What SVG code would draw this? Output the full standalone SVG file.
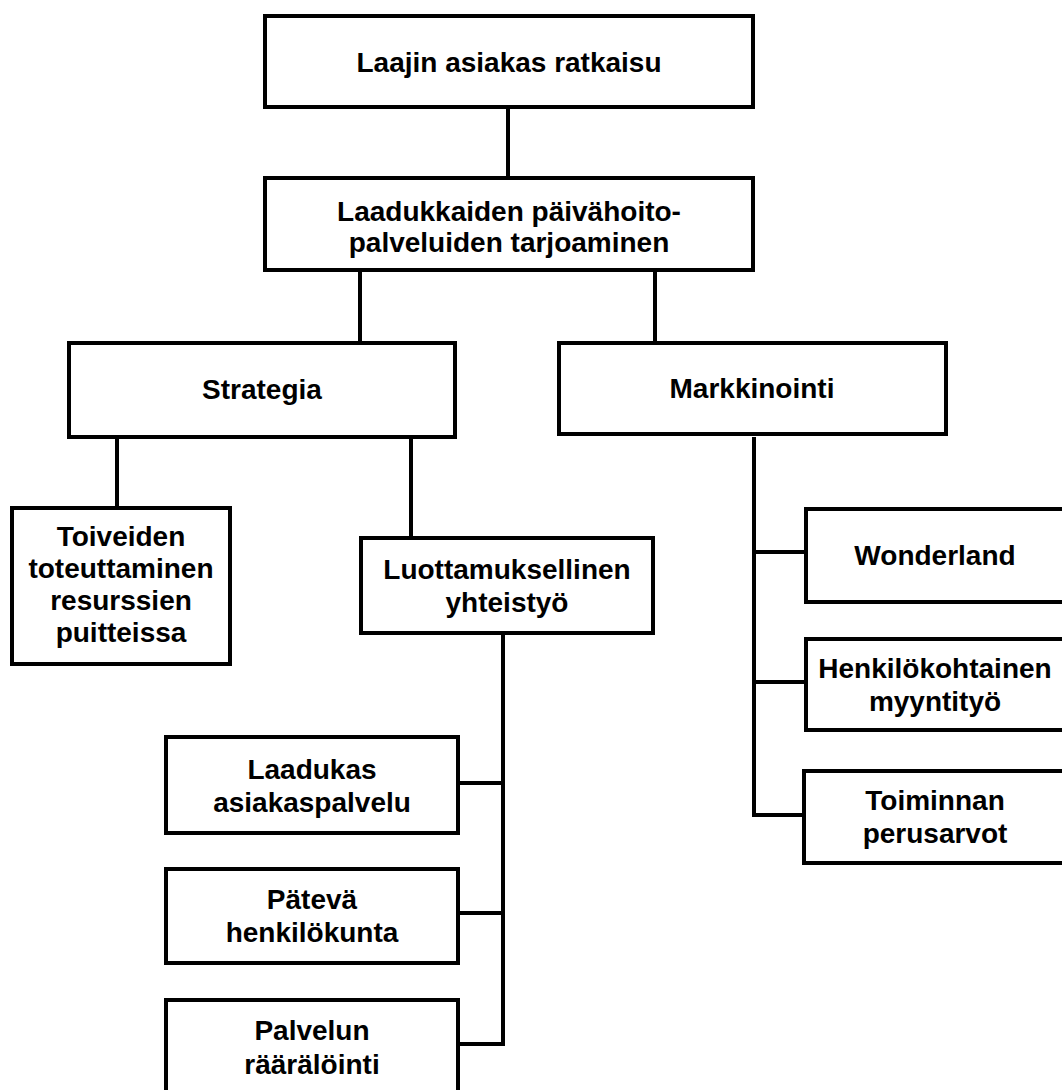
<svg xmlns="http://www.w3.org/2000/svg" width="1062" height="1090" viewBox="0 0 1062 1090">
<style>
rect.box{fill:#ffffff;stroke:#000000;stroke-width:4}
.conn line, .conn path{stroke:#000000;stroke-width:4;fill:none}
text{font-family:"Liberation Sans",Arial,sans-serif;font-weight:bold;font-size:28px;fill:#000000;text-anchor:middle}
</style>
<rect width="1062" height="1090" fill="#ffffff"/>
<g id="connectors" class="conn">
<line x1="508" y1="107" x2="508" y2="178"/>
<line x1="360" y1="270" x2="360" y2="343"/>
<line x1="655" y1="270" x2="655" y2="343"/>
<line x1="117" y1="437" x2="117" y2="508"/>
<line x1="411" y1="437" x2="411" y2="538"/>
<path d="M503 633 V1044"/>
<line x1="458" y1="783" x2="505" y2="783"/>
<line x1="458" y1="913" x2="505" y2="913"/>
<line x1="458" y1="1044" x2="505" y2="1044"/>
<path d="M754 437 V815"/>
<line x1="752" y1="552" x2="806" y2="552"/>
<line x1="752" y1="682" x2="806" y2="682"/>
<line x1="752" y1="815" x2="804" y2="815"/>
</g>
<g id="n-laajin"><rect class="box" x="265" y="16" width="488" height="91"/><text x="509" y="72">Laajin asiakas ratkaisu</text></g>
<g id="n-laadukkaiden"><rect class="box" x="265" y="178" width="488" height="92"/><text x="509" y="221">Laadukkaiden päivähoito-</text><text x="509" y="252">palveluiden tarjoaminen</text></g>
<g id="n-strategia"><rect class="box" x="69" y="343" width="386" height="94"/><text x="262" y="399">Strategia</text></g>
<g id="n-markkinointi"><rect class="box" x="559" y="343" width="387" height="91"/><text x="752" y="398">Markkinointi</text></g>
<g id="n-toiveiden"><rect class="box" x="12" y="508" width="218" height="156"/><text x="121" y="546">Toiveiden</text><text x="121" y="578">toteuttaminen</text><text x="121" y="610">resurssien</text><text x="121" y="642">puitteissa</text></g>
<g id="n-luottamuksellinen"><rect class="box" x="361" y="538" width="292" height="95"/><text x="507" y="579">Luottamuksellinen</text><text x="507" y="612">yhteistyö</text></g>
<g id="n-laadukas"><rect class="box" x="166" y="737" width="292" height="96"/><text x="312" y="779">Laadukas</text><text x="312" y="812">asiakaspalvelu</text></g>
<g id="n-pateva"><rect class="box" x="166" y="869" width="292" height="94"/><text x="312" y="909">Pätevä</text><text x="312" y="942">henkilökunta</text></g>
<g id="n-palvelun"><rect class="box" x="166" y="1000" width="292" height="110"/><text x="312" y="1040">Palvelun</text><text x="312" y="1074">räärälöinti</text></g>
<g id="n-wonderland"><rect class="box" x="806" y="509" width="264" height="93"/><text x="935" y="565">Wonderland</text></g>
<g id="n-henkilokohtainen"><rect class="box" x="806" y="639" width="264" height="91"/><text x="935" y="678">Henkilökohtainen</text><text x="935" y="711">myyntityö</text></g>
<g id="n-toiminnan"><rect class="box" x="804" y="771" width="266" height="92"/><text x="935" y="810">Toiminnan</text><text x="935" y="843">perusarvot</text></g>
</svg>
